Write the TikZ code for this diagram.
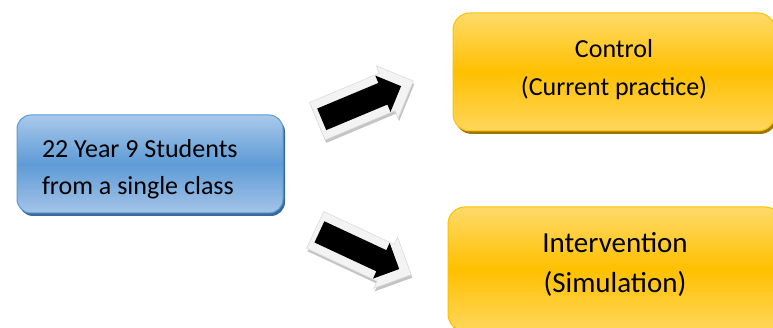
\documentclass[tikz,border=0pt]{standalone}
\usepackage{fontspec}
\setmainfont{Carlito}
\usetikzlibrary{shapes.arrows,shadows}
\definecolor{blueTop}{HTML}{A9C9EA}
\definecolor{blueMid}{HTML}{5E9BD6}
\definecolor{blueBot}{HTML}{A4C4E8}
\definecolor{blueLine}{HTML}{5B9BD5}
\definecolor{blueShadow}{HTML}{3C6A98}
\definecolor{orTop}{HTML}{FFDA6A}
\definecolor{orMid}{HTML}{FFC000}
\definecolor{orBot}{HTML}{FFD65C}
\definecolor{orLine}{HTML}{FFC000}
\definecolor{orShadow}{HTML}{9C7700}
\definecolor{frameFill}{HTML}{F3F3F3}
\definecolor{frameLine}{HTML}{DCDCDC}
\definecolor{frameShadow}{HTML}{C4C4C4}
\newcommand{\liftby}[2]{\raisebox{#1}[\height][\depth]{#2}}
\tikzset{
  bluebox/.style={rectangle, rounded corners=14pt, draw=blueLine, line width=1pt,
    top color=blueTop, bottom color=blueBot, middle color=blueMid,
    drop shadow={shadow xshift=2pt, shadow yshift=-3pt, fill=blueShadow, opacity=1},
    minimum width=266pt, minimum height=98pt, inner sep=0pt,
    font=\fontsize{26}{37}\selectfont},
  orbox/.style={rectangle, rounded corners=17pt, draw=orLine, line width=1pt,
    top color=orTop, bottom color=orBot, middle color=orMid,
    drop shadow={shadow xshift=2pt, shadow yshift=-3pt, fill=orShadow, opacity=1},
    inner sep=0pt},
  arrowframe/.style={single arrow, single arrow head extend=8pt, single arrow tip angle=90,
    fill=frameFill, draw=frameLine, line width=0.6pt, inner xsep=0pt, inner ysep=20pt,
    drop shadow={shadow xshift=1pt, shadow yshift=-3pt, fill=frameShadow, opacity=1}},
  arrowbody/.style={single arrow, single arrow head extend=8pt, single arrow tip angle=90,
    fill=black, inner xsep=0pt, inner ysep=11.5pt}
}
\begin{document}
\begin{tikzpicture}[x=1pt,y=-1pt]
\useasboundingbox (0,0) rectangle (773,328);
\clip (0,0) rectangle (773,328);
\fill[white] (0,0) rectangle (773,328);

\node[bluebox] (students) at (150,164)
  {\liftby{-5pt}{\begin{tabular}{@{}p{216pt}@{}}22 Year 9 Students\\from a single class\end{tabular}}};

\node[orbox, minimum width=322pt, minimum height=118pt,
      font=\fontsize{26}{38}\selectfont] (control) at (614,72)
      {\liftby{3.5pt}{\begin{tabular}{@{}c@{}}Control\\(Current practice)\end{tabular}}};

\node[orbox, minimum width=334pt, minimum height=124pt,
      font=\fontsize{29}{40}\selectfont] (interv) at (615,269)
      {\liftby{4pt}{\begin{tabular}{@{}c@{}}Intervention\\(Simulation)\end{tabular}}};

% upper arrow
\node[arrowframe, rotate=22.7, minimum height=104pt] (upframe) at (356,105) {};
\node[arrowbody, rotate=22.7, minimum height=86pt] (uparrow) at (356,105) {};

% lower arrow
\node[arrowframe, rotate=-25, minimum height=106pt] (downframe) at (354,248) {};
\node[arrowbody, rotate=-25, minimum height=88pt] (downarrow) at (354,248) {};
\end{tikzpicture}
\end{document}
